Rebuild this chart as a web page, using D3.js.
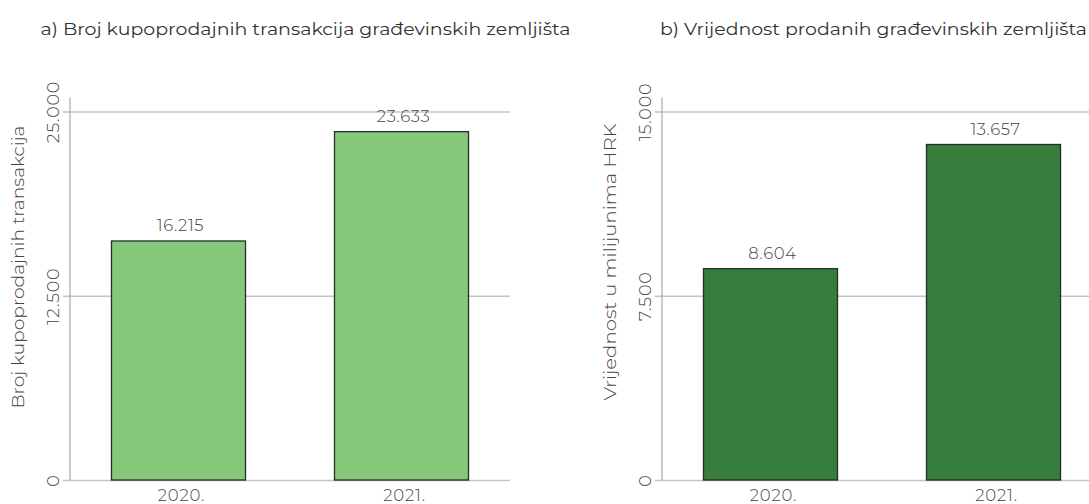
<!DOCTYPE html>
<html>
<head>
<meta charset="utf-8">
<script src="https://cdn.jsdelivr.net/npm/d3@7"></script>
<style>
  html, body { margin: 0; padding: 0; background: #ffffff; }
  svg { display: block; }
</style>
</head>
<body>
<svg id="chart" width="1089" height="504"></svg>
<script>
// ---- data ----
const categories = ["2020.", "2021."];
const transactionCounts = [16215, 23633];
const saleValues = [8604, 13657];
const ticksA = [0, 12500, 25000];
const ticksB = [0, 7500, 15000];
const titleA = "a) Broj kupoprodajnih transakcija građevinskih zemljišta";
const titleB = "b) Vrijednost prodanih građevinskih zemljišta";
const axisTitleA = "Broj kupoprodajnih transakcija";
const axisTitleB = "Vrijednost u milijunima HRK";

const locale = d3.formatLocale({decimal: ",", thousands: ".", grouping: [3], currency: ["", ""]});
const fmt = locale.format(",");

const FONT = "Montserrat, 'Open Sans', 'Noto Sans', sans-serif";
const svg = d3.select("#chart");

function panel(cfg) {
  const g = svg.append("g");
  const x = d3.scaleBand().domain(categories).range([cfg.x0, cfg.x0 + 440])
    .paddingInner(0.399).paddingOuter(0.186);
  const y = d3.scaleLinear().domain([0, cfg.max]).range([480, 111.5]);

  // title
  g.append("text").attr("x", cfg.titleX).attr("y", 35)
    .attr("font-family", FONT).attr("font-size", 16.5).attr("fill", "#333")
    .attr("textLength", cfg.titleLen).attr("lengthAdjust", "spacingAndGlyphs")
    .text(cfg.title);

  // grid + y axis
  const ax = g.append("g").attr("transform", `translate(${cfg.x0},0)`)
    .call(d3.axisLeft(y).tickValues(cfg.ticks).tickSize(-440).tickSizeOuter(0).tickFormat(fmt));
  ax.select(".domain").remove();
  ax.selectAll(".tick line").attr("x1", -7).attr("stroke", "#c4c4c4").attr("stroke-width", 1.3);
  ax.selectAll(".tick text")
    .attr("x", null).attr("dy", null).attr("y", null)
    .attr("transform", "translate(-11.5,0) rotate(-90)")
    .attr("text-anchor", "middle")
    .attr("font-family", FONT).attr("font-size", 17.5).attr("font-weight", 300)
    .attr("letter-spacing", 0.8).attr("fill", "#444");
  g.append("line").attr("x1", cfg.x0).attr("x2", cfg.x0).attr("y1", 97.5).attr("y2", 480)
    .attr("stroke", "#a8a8a8").attr("stroke-width", 1.2);

  // axis title
  g.append("text")
    .attr("transform", `translate(${cfg.x0 - 46},${cfg.axisTitleY}) rotate(-90)`)
    .attr("text-anchor", "middle")
    .attr("font-family", FONT).attr("font-size", 17).attr("font-weight", 300).attr("fill", "#444")
    .attr("textLength", cfg.axisTitleLen).attr("lengthAdjust", "spacingAndGlyphs")
    .text(cfg.axisTitle);

  // bars
  g.selectAll("rect.bar").data(cfg.values).join("rect").attr("class", "bar")
    .attr("x", (d, i) => x(categories[i]))
    .attr("width", x.bandwidth())
    .attr("y", d => y(d))
    .attr("height", d => y(0) - y(d))
    .attr("fill", cfg.color).attr("stroke", "#2a2a2a").attr("stroke-width", 1.3);

  // value labels
  g.selectAll("text.val").data(cfg.values).join("text").attr("class", "val")
    .attr("x", (d, i) => x(categories[i]) + x.bandwidth() / 2 + 2)
    .attr("y", d => y(d) - 9.5)
    .attr("text-anchor", "middle")
    .attr("font-family", FONT).attr("font-size", 16.5).attr("font-weight", 300)
    .attr("letter-spacing", 0.6).attr("fill", "#444")
    .text(d => fmt(d));

  // category labels
  const xa = g.append("g").attr("transform", "translate(0,480)")
    .call(d3.axisBottom(x).tickSize(0).tickPadding(0));
  xa.select(".domain").remove();
  xa.selectAll(".tick text").attr("dy", null).attr("y", 21).attr("x", 3)
    .attr("font-family", FONT).attr("font-size", 16.5).attr("font-weight", 300)
    .attr("letter-spacing", 0.8).attr("fill", "#444");
}

panel({x0: 70, max: 25000, ticks: ticksA, values: transactionCounts, color: "#85c879",
  title: titleA, titleX: 40.5, titleLen: 530, axisTitle: axisTitleA, axisTitleY: 267, axisTitleLen: 283});
panel({x0: 662, max: 15000, ticks: ticksB, values: saleValues, color: "#377e3c",
  title: titleB, titleX: 660, titleLen: 427, axisTitle: axisTitleB, axisTitleY: 262, axisTitleLen: 277});
</script>
</body>
</html>
